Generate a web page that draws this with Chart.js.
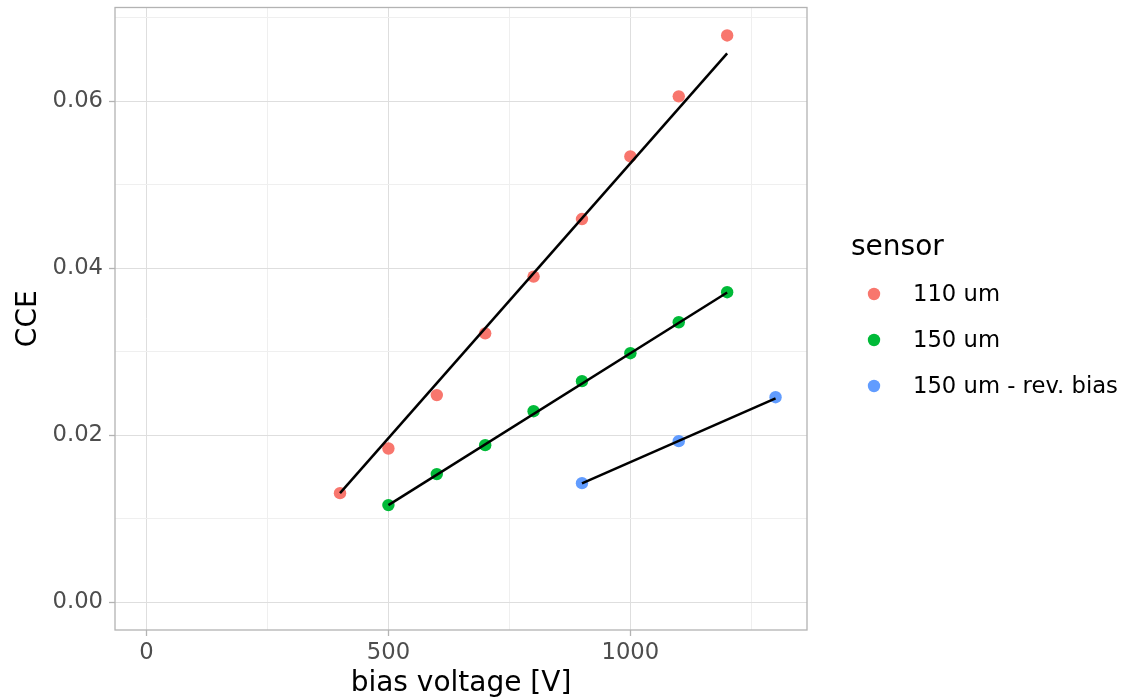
<!DOCTYPE html>
<html>
<head>
<meta charset="utf-8">
<script src="https://cdn.jsdelivr.net/npm/chart.js@4/dist/chart.umd.min.js"></script>
<style>
html,body{margin:0;padding:0;background:#fff;}
canvas{display:block;}
</style>
</head>
<body>
<canvas id="c" width="1128" height="698"></canvas>
<script>
// ---- data ----
const seriesNames = ['110 um', '150 um', '150 um - rev. bias'];
const seriesColors = ['#F8766D', '#00BA38', '#619CFF'];

const voltage110 = [400, 500, 600, 700, 800, 900, 1000, 1100, 1200];
const cce110     = [0.01305, 0.0184, 0.0248, 0.0322, 0.0390, 0.0459, 0.0534, 0.0606, 0.0679];

const voltage150 = [500, 600, 700, 800, 900, 1000, 1100, 1200];
const cce150     = [0.01162, 0.01533, 0.0188, 0.02287, 0.02647, 0.02982, 0.03353, 0.03713];

const voltageRev = [900, 1100, 1300];
const cceRev     = [0.01425, 0.01928, 0.02455];

// fitted lines (end points)
const fitVoltage110 = [400, 1200];
const fitCce110     = [0.01305, 0.06575];
const fitVoltage150 = [500, 1200];
const fitCce150     = [0.01162, 0.0371];
const fitVoltageRev = [900, 1300];
const fitCceRev     = [0.01422, 0.0244];

const xTicks = [0, 250, 500, 750, 1000, 1250];
const xMajor = [0, 500, 1000];
const yTicks = [0, 0.01, 0.02, 0.03, 0.04, 0.05, 0.06, 0.07];
const yMajor = [0, 0.02, 0.04, 0.06];

const xTitle = 'bias voltage [V]';
const yTitle = 'CCE';
const legendTitle = 'sensor';

// ---- build ----
const pts = (xs, ys) => xs.map((x, i) => ({x: x, y: ys[i]}));
const isMajor = (arr, v) => arr.some(m => Math.abs(m - v) < 1e-9);

const FONT = "'DejaVu Sans', sans-serif";

function lineDs(xs, ys) {
  return {type: 'line', data: pts(xs, ys), borderColor: '#000', borderWidth: 2.5,
          pointRadius: 0, fill: false, showLine: true, tension: 0, order: 0};
}
function pointDs(name, color, xs, ys) {
  return {type: 'scatter', label: name, data: pts(xs, ys), backgroundColor: color,
          borderWidth: 0, pointRadius: 6.2, pointHoverRadius: 6.2, order: 1};
}

const panelPlugin = {
  id: 'panel',
  afterDraw(chart) {
    const {ctx, chartArea: a} = chart;
    ctx.save();
    ctx.strokeStyle = '#b3b3b3';
    ctx.lineWidth = 1.3;
    ctx.strokeRect(a.left, a.top, a.right - a.left, a.bottom - a.top);
    // legend
    ctx.fillStyle = '#000';
    ctx.font = "28px " + FONT;
    ctx.textAlign = 'left';
    ctx.textBaseline = 'alphabetic';
    ctx.fillText(legendTitle, 851, 255);
    const ys = [294, 340, 386];
    ctx.font = "22.7px " + FONT;
    ctx.textBaseline = 'middle';
    seriesNames.forEach((n, i) => {
      ctx.beginPath();
      ctx.fillStyle = seriesColors[i];
      ctx.arc(874, ys[i], 6.2, 0, Math.PI * 2);
      ctx.fill();
      ctx.fillStyle = '#000';
      ctx.fillText(n, 913, ys[i] + 1);
    });
    ctx.restore();
  }
};

new Chart(document.getElementById('c'), {
  data: {
    datasets: [
      lineDs(fitVoltage110, fitCce110),
      lineDs(fitVoltage150, fitCce150),
      lineDs(fitVoltageRev, fitCceRev),
      pointDs(seriesNames[0], seriesColors[0], voltage110, cce110),
      pointDs(seriesNames[1], seriesColors[1], voltage150, cce150),
      pointDs(seriesNames[2], seriesColors[2], voltageRev, cceRev)
    ]
  },
  options: {
    responsive: false,
    animation: false,
    devicePixelRatio: 1,
    layout: {padding: {left: 0, top: 7.5, right: 321, bottom: 0}},
    plugins: {legend: {display: false}, tooltip: {enabled: false}},
    scales: {
      x: {
        type: 'linear', position: 'bottom', min: -65, max: 1365,
        afterBuildTicks: s => { s.ticks = xTicks.map(v => ({value: v})); },
        afterFit: s => { s.height = 68; s.paddingLeft = 0; s.paddingRight = 0; },
        border: {display: false},
        grid: {
          drawTicks: true, tickLength: 6,
          color: c => isMajor(xMajor, c.tick.value) ? '#dedede' : '#efefef',
          lineWidth: 1,
          tickColor: c => isMajor(xMajor, c.tick.value) ? '#b3b3b3' : 'rgba(0,0,0,0)',
          tickWidth: 1.3
        },
        ticks: {
          autoSkip: false, maxRotation: 0, padding: 6, color: '#4d4d4d',
          font: {family: FONT, size: 22.7, lineHeight: 1},
          callback: v => isMajor(xMajor, v) ? String(v) : ''
        },
        title: {display: true, text: xTitle, color: '#000',
                font: {family: FONT, size: 28, lineHeight: 1}, padding: {top: 0, bottom: 0}}
      },
      y: {
        type: 'linear', position: 'left', min: -0.00335, max: 0.07125,
        afterBuildTicks: s => { s.ticks = yTicks.map(v => ({value: v})); },
        afterFit: s => { s.width = 115; s.paddingTop = 0; s.paddingBottom = 0; },
        border: {display: false},
        grid: {
          drawTicks: true, tickLength: 6,
          color: c => isMajor(yMajor, c.tick.value) ? '#dedede' : '#efefef',
          lineWidth: 1,
          tickColor: c => isMajor(yMajor, c.tick.value) ? '#b3b3b3' : 'rgba(0,0,0,0)',
          tickWidth: 1.3
        },
        ticks: {
          autoSkip: false, padding: 6, color: '#4d4d4d',
          font: {family: FONT, size: 22.7, lineHeight: 1},
          callback: v => isMajor(yMajor, v) ? v.toFixed(2) : ''
        },
        title: {display: true, text: yTitle, color: '#000',
                font: {family: FONT, size: 28, lineHeight: 1}, padding: {top: 14.5, bottom: 0}}
      }
    }
  },
  plugins: [panelPlugin]
});
</script>
</body>
</html>
